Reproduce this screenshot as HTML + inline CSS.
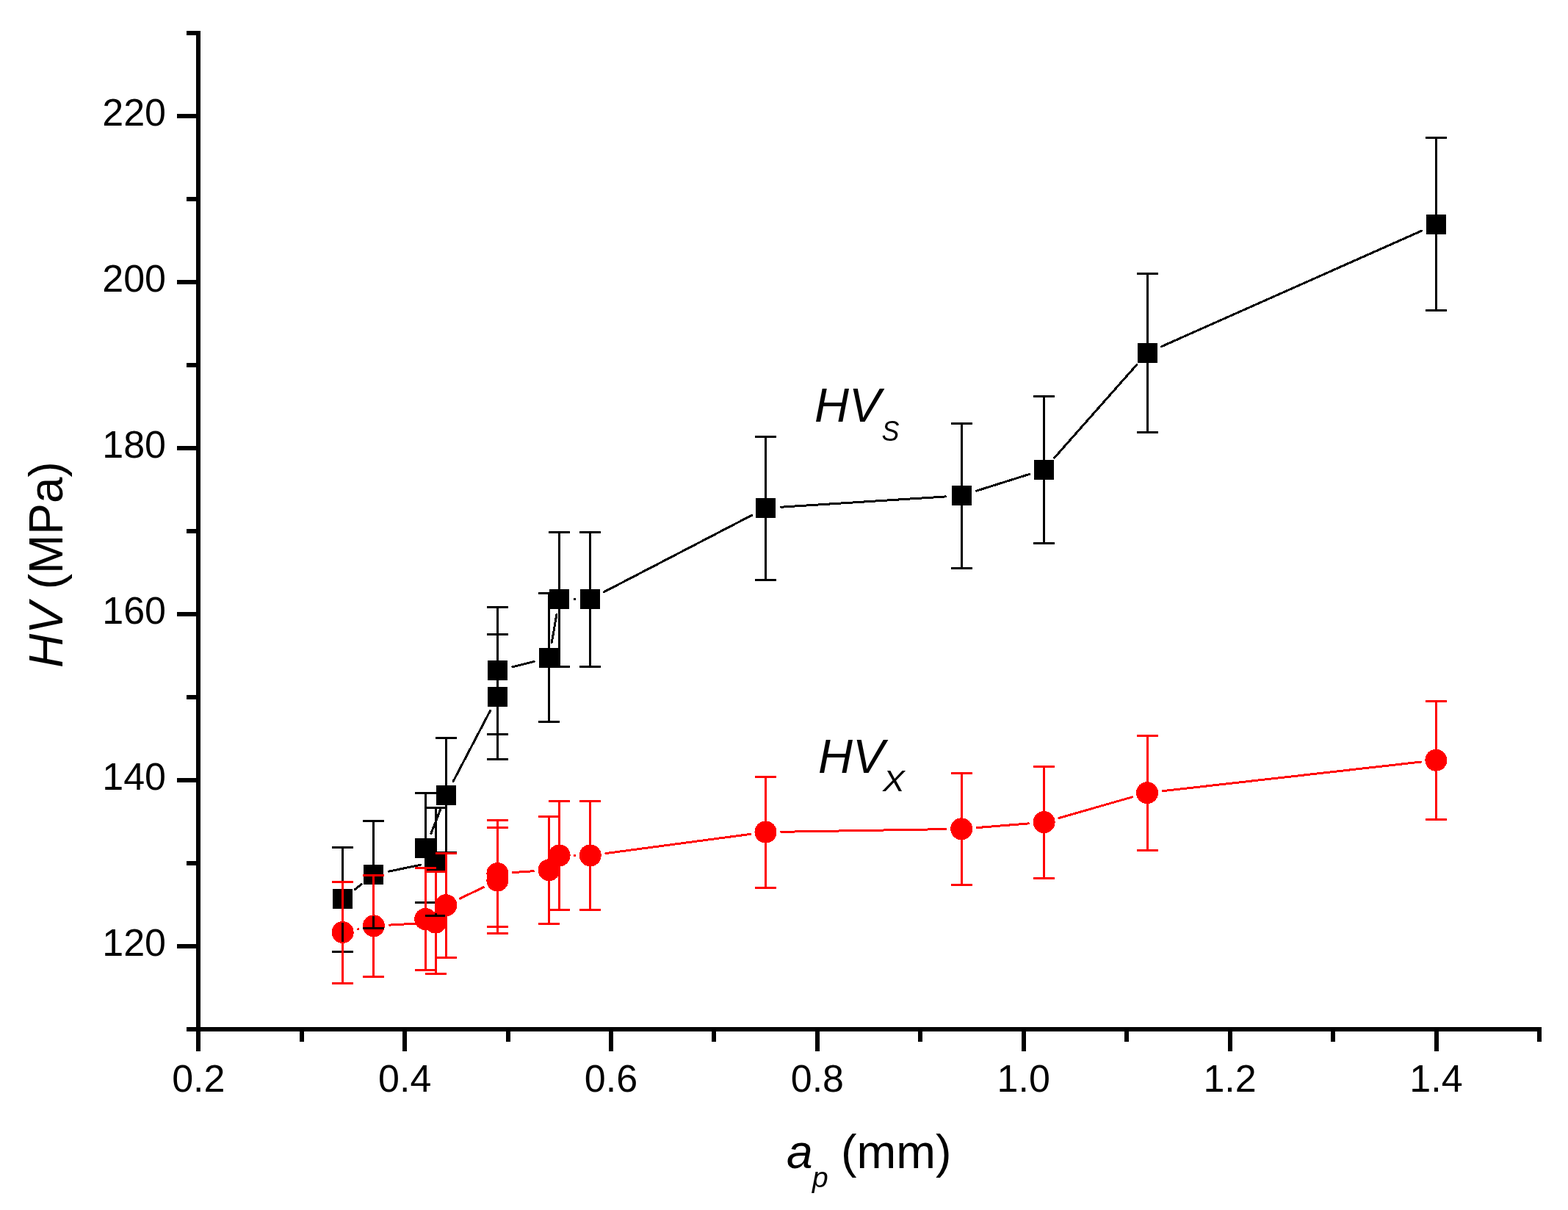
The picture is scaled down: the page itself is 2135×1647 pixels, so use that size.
<!DOCTYPE html>
<html><head><meta charset="utf-8"><title>HV vs ap</title>
<style>html,body{margin:0;padding:0;background:#fff;}svg{display:block;}</style>
</head><body>
<svg width="2135" height="1647" viewBox="0 0 2135 1647">
<rect width="100%" height="100%" fill="#fff"/>
<g shape-rendering="crispEdges">
<path d="M483.2 1210.7L492.2 1203.6M529.6 1186.1L572.3 1177.3M586.9 1134.6L599.6 1102.1M617.1 1063.6L667.6 967.2M698 907.7L727 900.5M751.3 874.4L757.9 836.4M782.4 815.5L783 815.5M822.5 805.7L1023.7 701.3M1063.7 690.2L1288 675.9M1329.4 668.2L1401.4 645.5M1435.6 623.2L1548 496.2M1581.4 471.7L1936 314" stroke="#000" stroke-width="3.0" fill="none" stroke-linecap="round"/>
<g fill="#000"><rect x="453.1" y="1210.4" width="27" height="27"/><rect x="495.3" y="1176.9" width="27" height="27"/><rect x="579.6" y="1159.5" width="27" height="27"/><rect x="565" y="1140.8" width="28" height="27"/><rect x="593.8" y="1068.9" width="27" height="27"/><rect x="663.9" y="934.9" width="27" height="27"/><rect x="663.9" y="899.4" width="27" height="27"/><rect x="734.1" y="881.8" width="27" height="27"/><rect x="748.1" y="802" width="27" height="27"/><rect x="790.2" y="802" width="27" height="27"/><rect x="1029" y="678" width="27" height="27"/><rect x="1295.7" y="661.1" width="27" height="27"/><rect x="1408.1" y="625.6" width="27" height="27"/><rect x="1548.5" y="466.8" width="27" height="27"/><rect x="1941.9" y="291.9" width="27" height="27"/></g>
<path d="M487.4 1264.7L488 1264.6M530 1259.1L571.9 1256.8M626.4 1223L658.3 1207.7M698.6 1187.6L726.4 1185.7M782.4 1164.4L783 1164.4M824.7 1161.6L1021.5 1135.4M1063.7 1132.3L1288 1128.6M1330.3 1126.6L1400.5 1120.9M1442 1113.4L1541.6 1084.9M1583.1 1076.7L1934.3 1037.1" stroke="#f00" stroke-width="3.0" fill="none" stroke-linecap="round"/>
</g>
<g fill="#f00" shape-rendering="crispEdges"><circle cx="466.6" cy="1269" r="15"/><circle cx="508.8" cy="1260.3" r="15"/><circle cx="593.1" cy="1255.6" r="15"/><circle cx="579.2" cy="1251" r="15"/><circle cx="607.3" cy="1232.2" r="15"/><circle cx="677.4" cy="1198.5" r="15"/><circle cx="677.4" cy="1189" r="15"/><circle cx="747.6" cy="1184.3" r="15"/><circle cx="761.6" cy="1164.4" r="15"/><circle cx="803.7" cy="1164.4" r="15"/><circle cx="1042.5" cy="1132.6" r="15"/><circle cx="1309.2" cy="1128.3" r="15"/><circle cx="1421.6" cy="1119.2" r="15"/><circle cx="1562" cy="1079.1" r="15"/><circle cx="1955.4" cy="1034.7" r="15"/></g>
<g shape-rendering="crispEdges">
<path d="M466.6 1153.4V1210.4M466.6 1237.4V1295.4M452.1 1153.4H481.1M452.1 1295.4H481.1M508.8 1117.3V1176.9M508.8 1203.9V1263.5M494.3 1117.3H523.3M494.3 1263.5H523.3M593.1 1099.3V1159.5M593.1 1186.5V1246.6M578.6 1099.3H607.6M578.6 1246.6H607.6M579.2 1079.6V1140.8M579.2 1167.8V1228.6M564.7 1079.6H593.7M564.7 1228.6H593.7M607.3 1004.6V1068.9M607.3 1095.9V1160.2M592.8 1004.6H621.8M592.8 1160.2H621.8M677.4 863.4V934.9M677.4 961.9V1033.2M662.9 863.4H691.9M662.9 1033.2H691.9M677.4 826.3V899.4M677.4 926.4V999.3M662.9 826.3H691.9M662.9 999.3H691.9M747.6 807.4V881.8M747.6 908.8V982.2M733.1 807.4H762.1M733.1 982.2H762.1M761.6 724.2V802M761.6 829V907.2M747.1 724.2H776.1M747.1 907.2H776.1M803.7 724.2V802M803.7 829V907.2M789.2 724.2H818.2M789.2 907.2H818.2M1042.5 594.4V678M1042.5 705V789.3M1028 594.4H1057M1028 789.3H1057M1309.2 576.5V661.1M1309.2 688.1V773.4M1294.7 576.5H1323.7M1294.7 773.4H1323.7M1421.6 539.2V625.6M1421.6 652.6V739.4M1407.1 539.2H1436.1M1407.1 739.4H1436.1M1562 372.5V466.8M1562 493.8V588.2M1547.5 372.5H1576.5M1547.5 588.2H1576.5M1955.4 187.7V291.9M1955.4 318.9V422.5M1940.9 187.7H1969.9M1940.9 422.5H1969.9" stroke="#000" stroke-width="3.0" fill="none"/>
<path d="M466.6 1200.3V1256M466.6 1282V1338.3M452.1 1200.3H481.1M452.1 1338.3H481.1M508.8 1191.4V1247.3M508.8 1273.3V1329.7M494.3 1191.4H523.3M494.3 1329.7H523.3M593.1 1186.1V1242.6M593.1 1268.6V1325.4M578.6 1186.1H607.6M578.6 1325.4H607.6M579.2 1181.4V1238M579.2 1264V1320.6M564.7 1181.4H593.7M564.7 1320.6H593.7M607.3 1161.2V1219.2M607.3 1245.2V1303.3M592.8 1161.2H621.8M592.8 1303.3H621.8M677.4 1126.5V1185.5M677.4 1211.5V1270.4M662.9 1126.5H691.9M662.9 1270.4H691.9M677.4 1116.4V1176M677.4 1202V1261.4M662.9 1116.4H691.9M662.9 1261.4H691.9M747.6 1111.4V1171.3M747.6 1197.3V1257.4M733.1 1111.4H762.1M733.1 1257.4H762.1M761.6 1090.4V1151.4M761.6 1177.4V1238.3M747.1 1090.4H776.1M747.1 1238.3H776.1M803.7 1090.4V1151.4M803.7 1177.4V1238.3M789.2 1090.4H818.2M789.2 1238.3H818.2M1042.5 1057.5V1119.6M1042.5 1145.6V1208.6M1028 1057.5H1057M1028 1208.6H1057M1309.2 1052.5V1115.3M1309.2 1141.3V1204.3M1294.7 1052.5H1323.7M1294.7 1204.3H1323.7M1421.6 1043.3V1106.2M1421.6 1132.2V1195.5M1407.1 1043.3H1436.1M1407.1 1195.5H1436.1M1562 1001.3V1066.1M1562 1092.1V1157.4M1547.5 1001.3H1576.5M1547.5 1157.4H1576.5M1955.4 954.4V1021.7M1955.4 1047.7V1115.3M1940.9 954.4H1969.9M1940.9 1115.3H1969.9" stroke="#f00" stroke-width="3.0" fill="none"/>
</g>
<g shape-rendering="crispEdges"><path d="M270 42V1401.2H2099" stroke="#000" stroke-width="6" fill="none"/><path d="M254 1401.2H270M241 1288.2H270M254 1175.2H270M241 1062.1H270M254 949.1H270M241 836.1H270M254 723H270M241 610H270M254 497H270M241 384H270M254 270.9H270M241 157.9H270M254 44.5H270M270.3 1401.2V1431M410.7 1401.2V1418M551.2 1401.2V1431M691.6 1401.2V1418M832 1401.2V1431M972.4 1401.2V1418M1112.9 1401.2V1431M1253.3 1401.2V1418M1393.7 1401.2V1431M1534.2 1401.2V1418M1674.6 1401.2V1431M1815 1401.2V1418M1955.5 1401.2V1431M2095.9 1401.2V1418" stroke="#000" stroke-width="6" fill="none"/></g>
<g font-family="'Liberation Sans', Arial, sans-serif" font-size="52" fill="#000"><text x="226" y="1300.9" text-anchor="end">120</text><text x="226" y="1074.8" text-anchor="end">140</text><text x="226" y="848.8" text-anchor="end">160</text><text x="226" y="622.7" text-anchor="end">180</text><text x="226" y="396.7" text-anchor="end">200</text><text x="226" y="170.6" text-anchor="end">220</text><text x="270.3" y="1485.5" text-anchor="middle">0.2</text><text x="551.2" y="1485.5" text-anchor="middle">0.4</text><text x="832" y="1485.5" text-anchor="middle">0.6</text><text x="1112.9" y="1485.5" text-anchor="middle">0.8</text><text x="1393.7" y="1485.5" text-anchor="middle">1.0</text><text x="1674.6" y="1485.5" text-anchor="middle">1.2</text><text x="1955.5" y="1485.5" text-anchor="middle">1.4</text></g>
<g font-family="'Liberation Sans', Arial, sans-serif" fill="#000">
<text x="1109" y="573.7" font-size="65" font-style="italic">HV</text>
<text transform="translate(1200.5 599.8) scale(0.91 1)" font-size="39.5" font-style="italic">S</text>
<text x="1114" y="1051.8" font-size="65" font-style="italic">HV</text>
<text transform="translate(1202 1077) scale(1.1 1)" font-size="40.5" font-style="italic">X</text>
<text x="1071" y="1590" font-size="64" font-style="italic">a</text>
<text x="1106" y="1615.6" font-size="39" font-style="italic">p</text>
<text x="1145" y="1590" font-size="64.5">(mm)</text>
<text transform="translate(85 909) rotate(-90)" font-size="64"><tspan font-style="italic">HV</tspan> (MPa)</text>
</g>
</svg>
</body></html>
